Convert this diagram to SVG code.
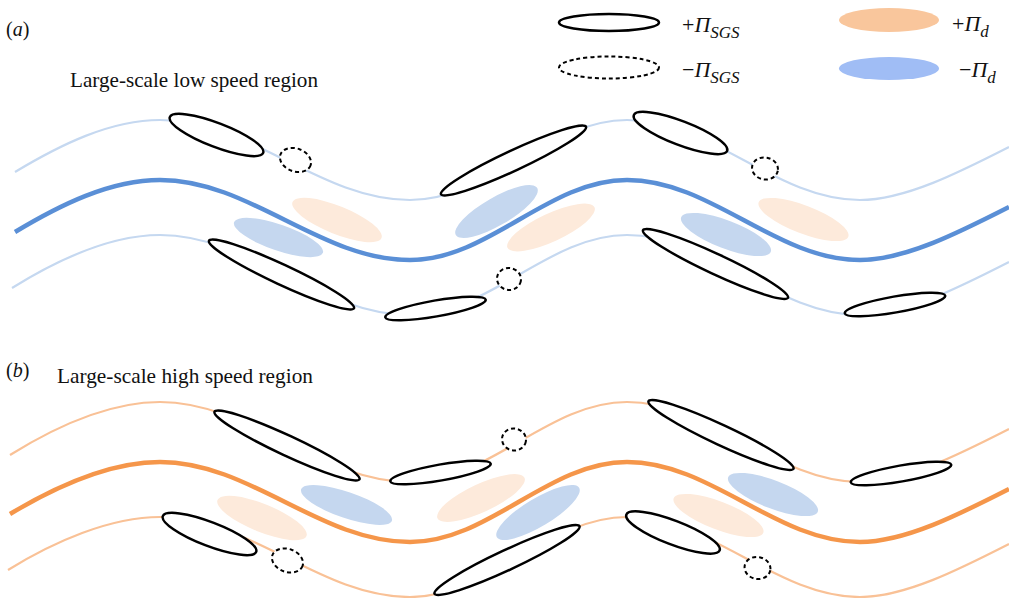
<svg xmlns="http://www.w3.org/2000/svg" width="1009" height="598" viewBox="0 0 1009 598">
<style>
text{font-family:"Liberation Serif","Times New Roman",serif;fill:#111}
.lbl{font-size:20px}
.ttl{font-size:21px}
.lg{font-size:22px}
.sub{font-size:17px;font-style:italic}
.it{font-style:italic}
.thinB{fill:none;stroke:#c5d8f0;stroke-width:2.2}
.thickB{fill:none;stroke:#5a8fd6;stroke-width:4.5}
.thinO{fill:none;stroke:#f9c196;stroke-width:2.2}
.thickO{fill:none;stroke:#f5964a;stroke-width:4.5}
.pos{fill:#fff;stroke:#000;stroke-width:2.5}
.neg{fill:#fff;stroke:#000;stroke-width:2;stroke-dasharray:4 3}
.fo{fill:#fdeadb}
.fb{fill:#c5d7ef}
</style>
<rect width="1009" height="598" fill="#fff"/>

<g id="legend">
  <ellipse class="pos" cx="609" cy="22.5" rx="50" ry="8.5"/>
  <text class="lg" x="682" y="32">+<tspan class="it">Π</tspan><tspan class="sub" dy="6">SGS</tspan></text>
  <ellipse class="neg" cx="609" cy="67.5" rx="50" ry="11"/>
  <text class="lg" x="682" y="77">−<tspan class="it">Π</tspan><tspan class="sub" dy="6">SGS</tspan></text>
  <ellipse cx="889" cy="20" rx="50" ry="12" fill="#f9c69c"/>
  <text class="lg" x="952" y="31">+<tspan class="it">Π</tspan><tspan class="sub" dy="6">d</tspan></text>
  <ellipse cx="889" cy="68.5" rx="50" ry="11.5" fill="#a0bdf5"/>
  <text class="lg" x="959" y="77">−<tspan class="it">Π</tspan><tspan class="sub" dy="6">d</tspan></text>
</g>

<g id="labels">
  <text class="lbl" x="6" y="36">(<tspan class="it">a</tspan>)</text>
  <text class="ttl" x="70" y="87" textLength="248" lengthAdjust="spacingAndGlyphs">Large-scale low speed region</text>
  <text class="lbl" x="6" y="377">(<tspan class="it">b</tspan>)</text>
  <text class="ttl" x="57" y="383" textLength="256" lengthAdjust="spacingAndGlyphs">Large-scale high speed region</text>
</g>

<!-- panel a fills -->
<g id="a-fills">
  <ellipse class="fo" cx="337" cy="220" rx="48" ry="14" transform="rotate(22 337 220)"/>
  <ellipse class="fb" cx="278.5" cy="237.5" rx="47" ry="13" transform="rotate(19 278.5 237.5)"/>
  <ellipse class="fb" cx="496.5" cy="211.5" rx="47" ry="14" transform="rotate(-30 496.5 211.5)"/>
  <ellipse class="fo" cx="551" cy="227.5" rx="48" ry="14" transform="rotate(-25 551 227.5)"/>
  <ellipse class="fb" cx="726" cy="234.5" rx="48" ry="14" transform="rotate(21 726 234.5)"/>
  <ellipse class="fo" cx="803.5" cy="219.5" rx="48" ry="14" transform="rotate(21 803.5 219.5)"/>
</g>
<!-- panel b fills -->
<g id="b-fills">
  <ellipse class="fo" cx="262" cy="518" rx="48" ry="14" transform="rotate(22 262 518)"/>
  <ellipse class="fb" cx="346.5" cy="505" rx="48" ry="13" transform="rotate(19 346.5 505)"/>
  <ellipse class="fo" cx="481" cy="498" rx="48" ry="14" transform="rotate(-25 481 498)"/>
  <ellipse class="fb" cx="538" cy="512.5" rx="48" ry="14" transform="rotate(-31 538 512.5)"/>
  <ellipse class="fo" cx="718.5" cy="515.5" rx="48" ry="14" transform="rotate(21 718.5 515.5)"/>
  <ellipse class="fb" cx="773" cy="494.5" rx="48" ry="14" transform="rotate(21 773 494.5)"/>
</g>

<g id="connectors">
  <path class="thinB" d="M15,172 C60,145 110,120 160,120 C250,120 320,200 410,200 C489,200 548,120 627,120 C711,120 776,200 860,200 C905,200 960,172 1009,147"/>
  <path class="thickB" d="M15,232 C60,205 110,180 160,180 C250,180 320,260 410,260 C489,260 548,180 627,180 C711,180 776,260 860,260 C905,260 960,232 1009,207"/>
  <path class="thinB" d="M12,288 C57,260 110,235 160,235 C250,235 320,315 410,315 C489,315 548,235 627,235 C711,235 776,315 860,315 C905,315 960,287 1009,262"/>
  <g transform="translate(0,282)">
    <path class="thinO" d="M10,173 C55,145 110,120 160,120 C250,120 320,200 410,200 C489,200 548,120 627,120 C711,120 776,200 860,200 C905,200 960,172 1009,147"/>
    <path class="thickO" d="M10,232 C55,205 110,180 160,180 C250,180 320,260 410,260 C489,260 548,180 627,180 C711,180 776,260 860,260 C905,260 960,232 1009,207"/>
    <path class="thinO" d="M8,288 C53,260 110,235 160,235 C250,235 320,315 410,315 C489,315 548,235 627,235 C711,235 776,315 860,315 C905,315 960,287 1009,262"/>
  </g>
</g>

<g id="a-sgs">
  <ellipse class="pos" cx="216.5" cy="135" rx="50" ry="12" transform="rotate(21 216.5 135)"/>
  <ellipse class="neg" cx="295.5" cy="160" rx="16" ry="11.5" transform="rotate(20 295.5 160)"/>
  <ellipse class="pos" cx="513.5" cy="160.5" rx="80" ry="10" transform="rotate(-25 513.5 160.5)"/>
  <ellipse class="pos" cx="281.5" cy="274.5" rx="80" ry="10" transform="rotate(25 281.5 274.5)"/>
  <ellipse class="pos" cx="435.5" cy="308.5" rx="51" ry="8" transform="rotate(-10 435.5 308.5)"/>
  <ellipse class="neg" cx="509" cy="279" rx="12" ry="11" transform="rotate(10 509 279)"/>
  <ellipse class="pos" cx="680.5" cy="133" rx="50" ry="12" transform="rotate(21 680.5 133)"/>
  <ellipse class="neg" cx="765" cy="168.5" rx="13" ry="11" transform="rotate(10 765 168.5)"/>
  <ellipse class="pos" cx="715.5" cy="264" rx="80" ry="10" transform="rotate(25 715.5 264)"/>
  <ellipse class="pos" cx="895" cy="304.5" rx="51" ry="8" transform="rotate(-10 895 304.5)"/>
</g>

<g id="b-sgs">
  <ellipse class="pos" cx="287" cy="445.5" rx="80" ry="10" transform="rotate(25 287 445.5)"/>
  <ellipse class="pos" cx="440.5" cy="472.5" rx="51" ry="8" transform="rotate(-10 440.5 472.5)"/>
  <ellipse class="neg" cx="514" cy="439.5" rx="12" ry="11" transform="rotate(10 514 439.5)"/>
  <ellipse class="pos" cx="209.5" cy="534" rx="50" ry="12" transform="rotate(21 209.5 534)"/>
  <ellipse class="neg" cx="287.5" cy="560.5" rx="16" ry="11.5" transform="rotate(20 287.5 560.5)"/>
  <ellipse class="pos" cx="507" cy="560" rx="80" ry="10" transform="rotate(-25 507 560)"/>
  <ellipse class="pos" cx="721" cy="435" rx="80" ry="10" transform="rotate(25 721 435)"/>
  <ellipse class="pos" cx="901" cy="473.5" rx="51" ry="8" transform="rotate(-10 901 473.5)"/>
  <ellipse class="pos" cx="673" cy="532.5" rx="50" ry="12" transform="rotate(21 673 532.5)"/>
  <ellipse class="neg" cx="757.5" cy="568" rx="13" ry="11" transform="rotate(10 757.5 568)"/>
</g>
</svg>
